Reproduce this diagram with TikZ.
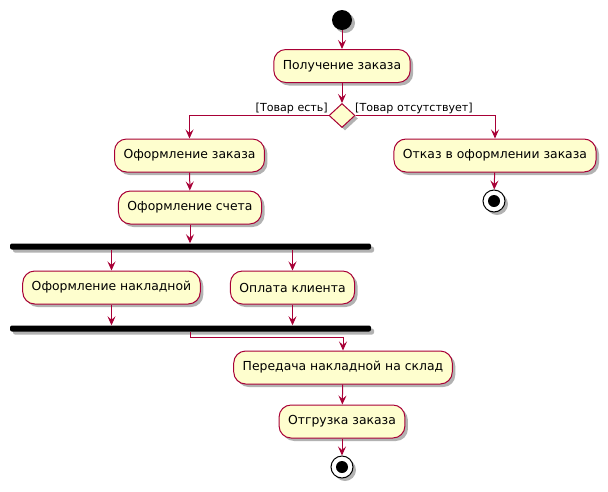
\documentclass[tikz,border=0pt]{standalone}
\usepackage{fontspec}
\setmainfont{DejaVu Sans}
\usetikzlibrary{arrows.meta,shapes.geometric,shadows,calc}
\definecolor{umlred}{HTML}{A80036}
\definecolor{umlfill}{HTML}{FEFECE}
\begin{document}
\begin{tikzpicture}[x=1pt,y=-1pt,
  shade/.style={drop shadow={shadow xshift=3pt,shadow yshift=-3pt,opacity=0.3,fill=black}},
  act/.style={draw=umlred,fill=umlfill,rounded corners=12pt,minimum height=33pt,
    inner xsep=9pt,line width=1pt,font=\fontsize{12.4}{14}\selectfont,shade},
  bar/.style={fill=black,minimum width=361pt,minimum height=6pt,inner sep=0pt,
    rounded corners=2pt,shade},
  choice/.style={diamond,draw=umlred,fill=umlfill,line width=1pt,inner sep=0pt,
    minimum width=26pt,minimum height=24pt,shade},
  guard/.style={font=\fontsize{11.1}{12}\selectfont,inner sep=0pt},
  startdot/.style={circle,fill=black,minimum size=20pt,inner sep=0pt,shade},
  stopring/.style={circle,draw=black,fill=white,line width=1pt,minimum size=22pt,inner sep=0pt,shade},
  flow/.style={draw=umlred,line width=1pt,-{Stealth[length=9pt,width=8pt,inset=3.5pt]}}]
\useasboundingbox (0,0) rectangle (608,491);

% initial node and first action
\node[startdot] (start) at (342,20) {};
\node[act] (recv) at (342,66) {Получение заказа};
\node[choice] (dec) at (342,115.5) {};
\node[guard,anchor=base east] (gyes) at (328,111) {[Товар есть]};
\node[guard,anchor=base west] (gno) at (355,111) {[Товар отсутствует]};

% rejected branch
\node[act] (refuse) at (495,155.5) {Отказ в оформлении заказа};
\node[stopring] (stop1) at (494,201) {};
\fill (stop1.center) circle (6pt);

% accepted branch
\node[act] (order) at (189.5,155.5) {Оформление заказа};
\node[act] (invoice) at (190,207.5) {Оформление счета};
\node[bar] (fork) at (190.5,246.5) {};
\node[act] (waybill) at (111.5,287.5) {Оформление накладной};
\node[act] (payment) at (292.5,287.5) {Оплата клиента};
\node[bar] (join) at (190.5,328.5) {};
\coordinate (bend) at (190,337);
\node[act] (transfer) at (343,367.5) {Передача накладной на склад};
\node[act] (ship) at (342,421.5) {Отгрузка заказа};
\node[stopring] (stop2) at (342,467) {};
\fill (stop2.center) circle (6pt);

% connectors
\draw[flow] (start) -- (recv);
\draw[flow] (recv) -- (dec);
\draw[flow] (dec.west) -| (order.north);
\draw[flow] (dec.east) -| (refuse.north);
\draw[flow] (refuse) -- (stop1);
\draw[flow] (order) -- (invoice);
\draw[flow] (invoice.south) -- (invoice.south |- fork.north);
\draw[flow] (fork.south -| waybill.north) -- (waybill.north);
\draw[flow] (fork.south -| payment.north) -- (payment.north);
\draw[flow] (waybill.south) -- (waybill.south |- join.north);
\draw[flow] (payment.south) -- (payment.south |- join.north);
\draw[flow] (join.south -| bend) -- (bend) -| (transfer.north);
\draw[flow] (transfer) -- (ship);
\draw[flow] (ship) -- (stop2);
\end{tikzpicture}
\end{document}
